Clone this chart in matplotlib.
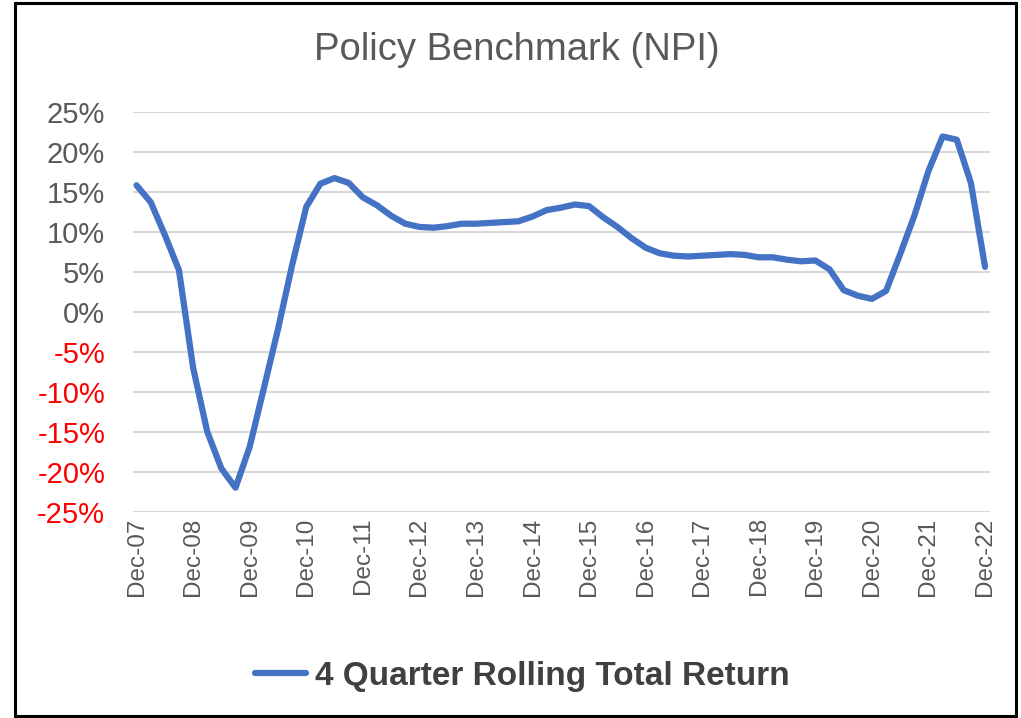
import numpy as np
import matplotlib
matplotlib.use("Agg")
import matplotlib.pyplot as plt
from matplotlib.patches import Rectangle

# 4 quarter rolling total return, quarterly Dec-07 .. Dec-22 (percent)
returns = [
    15.8, 13.7, 9.6, 5.2,
    -7.0, -15.0, -19.6, -22.0,
    -16.9, -9.6, -2.2, 5.8,
    13.1, 16.0, 16.7, 16.1,
    14.3, 13.3, 12.0, 11.0,
    10.6, 10.5, 10.7, 11.0,
    11.0, 11.1, 11.2, 11.3,
    11.9, 12.7, 13.0, 13.4,
    13.2, 11.8, 10.6, 9.2,
    8.0, 7.3, 7.0, 6.9,
    7.0, 7.1, 7.2, 7.1,
    6.8, 6.8, 6.5, 6.3,
    6.4, 5.3, 2.7, 2.0,
    1.6, 2.6, 7.2, 12.0,
    17.6, 21.9, 21.5, 16.1,
    5.6,
]
year_labels = ["Dec-07", "Dec-08", "Dec-09", "Dec-10", "Dec-11", "Dec-12",
               "Dec-13", "Dec-14", "Dec-15", "Dec-16", "Dec-17", "Dec-18",
               "Dec-19", "Dec-20", "Dec-21", "Dec-22"]
y_ticks = [25, 20, 15, 10, 5, 0, -5, -10, -15, -20, -25]

plt.rcParams['font.family'] = ['Liberation Sans', 'DejaVu Sans']

W, H = 1021, 718
fig = plt.figure(figsize=(W / 100, H / 100), dpi=100)
ax = fig.add_axes([133 / W, 1 - 511.7 / H, (990 - 133) / W, 400 / H])

x = np.arange(len(returns))
ax.plot(x, returns, color='#4472C4', lw=4.5, solid_joinstyle='round',
        solid_capstyle='round', zorder=3, label='4 Quarter Rolling Total Return')

ax.set_xlim(-0.25, len(returns) - 1 + 0.35)
ax.set_ylim(-25, 25)
ax.set_yticks(y_ticks)
ax.set_yticklabels([f"{v}%" for v in y_ticks])
for lab, v in zip(ax.get_yticklabels(), y_ticks):
    lab.set_color('#FF0000' if v < 0 else '#595959')
ax.tick_params(axis='y', length=0, pad=20, labelsize=21)

ax.set_xticks(x[::4])
ax.set_xticklabels(year_labels, rotation=90, color='#595959', fontsize=17.5)
ax.tick_params(axis='x', length=0, pad=4)

ax.grid(axis='y', color='#D9D9D9', lw=1.6, zorder=0)
ax.grid(axis='x', visible=False)
for s in ax.spines.values():
    s.set_visible(False)

fig.text(517 / W, 1 - 50 / H, "Policy Benchmark (NPI)", ha='center', va='center',
         fontsize=27.5, color='#595959')

fig.legend(loc='center', bbox_to_anchor=(522 / W, 1 - 676 / H), frameon=False,
           prop={'size': 24, 'weight': 'bold'}, labelcolor='#404040',
           handlelength=1.55, handletextpad=0.25)

fig.patches.append(Rectangle((15 / W, 2 / H), (1016 - 15) / W, (716 - 3) / H,
                             transform=fig.transFigure, fill=False,
                             edgecolor='black', lw=2.2))

fig.savefig("out.png", dpi=100)
